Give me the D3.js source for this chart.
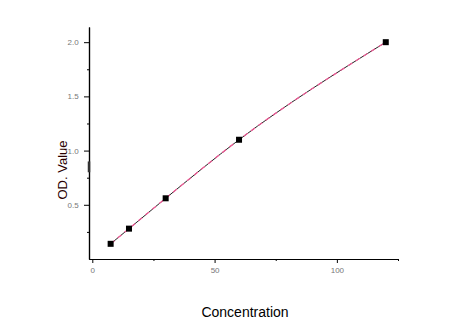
<!DOCTYPE html>
<html>
<head>
<meta charset="utf-8">
<script src="https://cdn.jsdelivr.net/npm/d3@7"></script>
<style>
  body { margin: 0; background: #fff; }
  text { font-family: "Liberation Sans", Arial, sans-serif; }
</style>
</head>
<body>
<div id="chart"></div>
<script>
// data
const concentration = [7.5, 15, 30, 60, 120];
const odValue = [0.14, 0.28, 0.56, 1.10, 2.00];
const xMajor = [0, 50, 100];
const xMinor = [25, 75, 125];
const yMajor = [0.5, 1.0, 1.5, 2.0];
const yMinor = [0.25, 0.75, 1.25, 1.75];

const W = 462, H = 324;
const plotLeft = 89, plotRight = 398, plotTop = 27, plotBottom = 259;

const svg = d3.select("#chart").append("svg")
  .attr("width", W)
  .attr("height", H);

svg.append("rect").attr("width", W).attr("height", H).attr("fill", "#fff");

const x = d3.scaleLinear().domain([-1.35, 125]).range([plotLeft, plotRight]);
const y = d3.scaleLinear().domain([0, 2.14]).range([plotBottom, plotTop]);

const data = concentration.map((c, i) => ({c, od: odValue[i]}));

// x axis
const gx = svg.append("g").attr("transform", `translate(0,${plotBottom})`);
gx.call(d3.axisBottom(x).tickValues(xMajor).tickSize(4).tickSizeOuter(0).tickFormat(d3.format("d")));
gx.append("g").call(d3.axisBottom(x).tickValues(xMinor).tickSize(2).tickSizeOuter(0).tickFormat(""));
gx.selectAll(".domain").attr("stroke", "#000").attr("stroke-width", 1.2);

// y axis
const gy = svg.append("g").attr("transform", `translate(${plotLeft},0)`);
gy.call(d3.axisLeft(y).tickValues(yMajor).tickSize(5).tickSizeOuter(0).tickFormat(d3.format(".1f")));
gy.append("g").call(d3.axisLeft(y).tickValues(yMinor).tickSize(2).tickSizeOuter(0).tickFormat(""));
gy.selectAll(".domain").attr("stroke", "#000").attr("stroke-width", 1.2);

svg.selectAll(".tick text")
  .attr("fill", "#777")
  .style("font-size", "8px");
gx.selectAll(".tick text").attr("dy", "0.9em");
gy.selectAll(".tick text").attr("dx", "-0.3em");

// the darker bit on the y axis
gy.append("line")
  .attr("x1", 0).attr("x2", 0)
  .attr("y1", y(0.8)).attr("y2", y(0.9))
  .attr("stroke", "#333").attr("stroke-width", 2.5);

// fitted curve
const line = d3.line()
  .x(d => x(d.c))
  .y(d => y(d.od))
  .curve(d3.curveMonotoneX);

svg.append("path")
  .datum(data)
  .attr("fill", "none")
  .attr("stroke", "#222")
  .attr("stroke-width", 1)
  .attr("d", line);

svg.append("path")
  .datum(data)
  .attr("fill", "none")
  .attr("stroke", "#ec5a94")
  .attr("stroke-width", 1.3)
  .attr("stroke-dasharray", "5,4")
  .attr("d", line);

// points
svg.selectAll(".pt")
  .data(data)
  .enter()
  .append("rect")
  .attr("class", "pt")
  .attr("x", d => x(d.c) - 3)
  .attr("y", d => y(d.od) - 3)
  .attr("width", 6)
  .attr("height", 6)
  .attr("fill", "#000");

// axis titles
svg.append("text")
  .attr("x", 245)
  .attr("y", 317)
  .attr("text-anchor", "middle")
  .style("font-size", "14px")
  .attr("fill", "#000")
  .text("Concentration");

svg.append("text")
  .attr("transform", `translate(67,170) rotate(-90)`)
  .attr("text-anchor", "middle")
  .style("font-size", "13px")
  .attr("fill", "#2a0000")
  .text("OD. Value");
</script>
</body>
</html>
